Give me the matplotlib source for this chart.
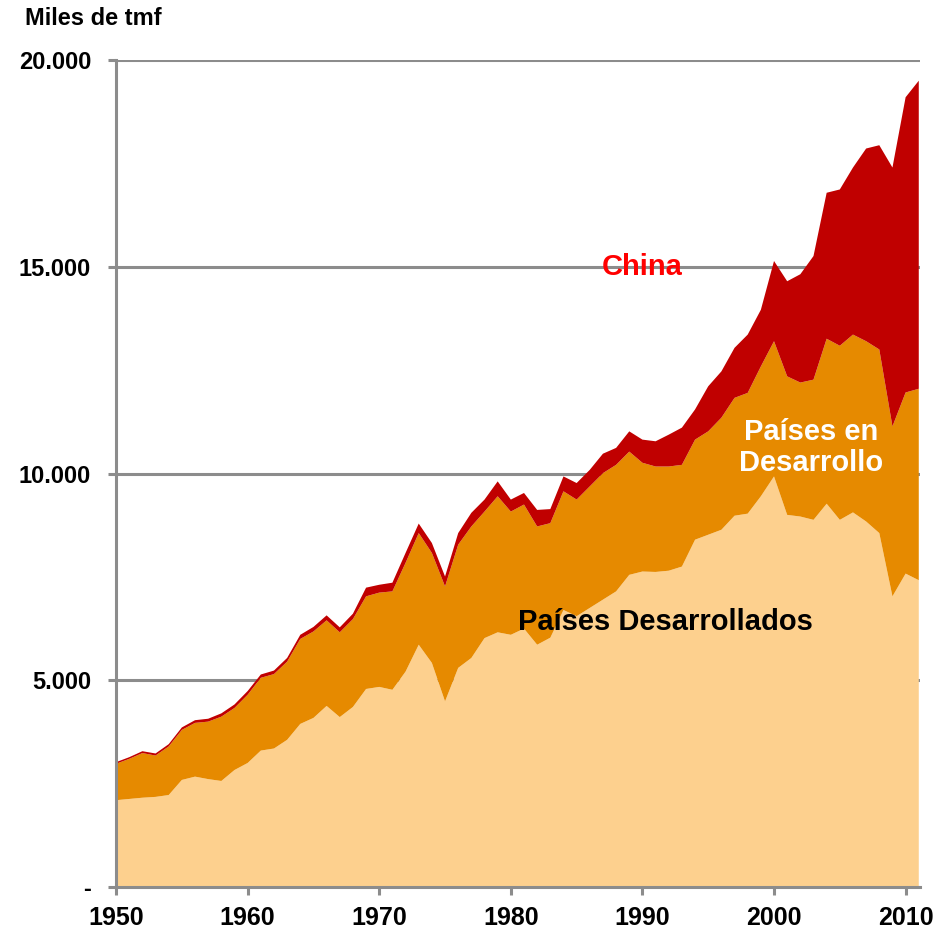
import matplotlib.pyplot as plt
from matplotlib.ticker import FixedLocator

years = list(range(1950, 2012))

# miles de tmf
developed = [2100, 2130, 2160, 2180, 2225, 2590, 2670, 2610, 2565, 2830,
             3000, 3300, 3350, 3560, 3945, 4090, 4380, 4110, 4355, 4790,
             4840, 4770, 5210, 5860, 5420, 4490, 5300, 5540, 6020, 6160,
             6100, 6250, 5860, 6030, 6700, 6550, 6750, 6950, 7150, 7550,
             7630, 7620, 7650, 7750, 8400, 8520, 8640, 8980, 9030, 9450,
             9930, 9000, 8960, 8880, 9270, 8880, 9060, 8840, 8560, 7030,
             7580, 7420]
developing = [880, 970, 1080, 1000, 1175, 1210, 1300, 1390, 1555, 1500,
              1650, 1760, 1800, 1890, 2055, 2090, 2070, 2050, 2125, 2240,
              2280, 2380, 2630, 2700, 2660, 2780, 2980, 3180, 3060, 3290,
              2980, 3000, 2860, 2770, 2870, 2820, 2940, 3060, 3060, 2980,
              2630, 2550, 2520, 2460, 2420, 2500, 2710, 2850, 2920, 3140,
              3270, 3350, 3240, 3390, 3990, 4210, 4300, 4360, 4440, 4110,
              4380, 4630]
china = [40, 40, 45, 50, 55, 60, 65, 70, 80, 85,
         90, 80, 85, 90, 100, 110, 120, 120, 130, 210,
         190, 210, 240, 230, 240, 240, 280, 330, 290, 360,
         290, 280, 400, 340, 360, 400, 400, 470, 410, 490,
         560, 610, 770, 900, 730, 1090, 1120, 1210, 1410, 1370,
         1940, 2300, 2620, 2990, 3530, 3780, 4040, 4660, 4940, 6260,
         7140, 7450]

y_ticks = [0, 5000, 10000, 15000, 20000]
y_labels = ["-", "5.000", "10.000", "15.000", "20.000"]
x_ticks = [1950, 1960, 1970, 1980, 1990, 2000, 2010]

plt.rcParams["font.family"] = ["Liberation Sans", "DejaVu Sans"]

fig = plt.figure(figsize=(9.36, 9.35), dpi=100)
ax = fig.add_axes([0.124, 0.0513, 0.859, 0.8845])

ax.stackplot(years, developed, developing, china,
             colors=["#FDD08E", "#E68A00", "#C00000"], linewidth=0)

ax.set_xlim(1950, 2011.1)
ax.set_ylim(0, 20000)
ax.yaxis.set_major_locator(FixedLocator(y_ticks))
ax.set_yticklabels(y_labels, fontsize=17, fontweight="bold")
ax.set_xticks(x_ticks)
ax.set_xticklabels([str(x) for x in x_ticks], fontsize=18, fontweight="bold")

grey = "#8C8C8C"
ax.grid(axis="y", color=grey, linewidth=2.2)
ax.set_axisbelow(True)
for side in ["top", "right"]:
    ax.spines[side].set_visible(False)
for side in ["left", "bottom"]:
    ax.spines[side].set_color(grey)
    ax.spines[side].set_linewidth(2.2)
    ax.spines[side].set_zorder(5)
ax.tick_params(axis="y", length=6, width=2.2, color=grey, pad=12)
ax.tick_params(axis="x", length=6, width=2.2, color=grey, pad=8)

fig.text(0.1, 0.98, "Miles de tmf", fontsize=17, fontweight="bold",
         ha="center", va="center")

ax.text(1990.0, 14985, "China", color="#FF0000", fontsize=21, fontweight="bold",
        ha="center", va="center")
ax.text(2002.8, 10630, "Países en\nDesarrollo", color="white", fontsize=21,
        fontweight="bold", ha="center", va="center", linespacing=1.1)
ax.text(1991.75, 6415, "Países Desarrollados", color="black", fontsize=21,
        fontweight="bold", ha="center", va="center")

fig.savefig("out.png", dpi=100)
